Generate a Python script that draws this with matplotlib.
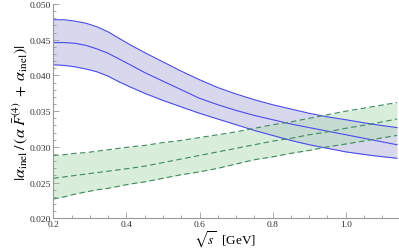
import numpy as np
import matplotlib
matplotlib.use("Agg")
import matplotlib.pyplot as plt
from matplotlib.ticker import MultipleLocator, FormatStrFormatter

plt.rcParams['font.family'] = ['Liberation Serif', 'DejaVu Serif']
plt.rcParams['mathtext.fontset'] = 'stix'

# sqrt(s) in GeV
s = [0.20, 0.23, 0.26, 0.29, 0.32, 0.35, 0.38, 0.41, 0.45, 0.50, 0.55,
     0.60, 0.65, 0.70, 0.75, 0.80, 0.85, 0.90, 0.95, 1.00, 1.07, 1.14]

# blue band (solid lines)
blue_up = [0.0478, 0.0478, 0.0476, 0.0473, 0.0468, 0.0461, 0.0452, 0.0443, 0.0432, 0.0419, 0.0406,
           0.0394, 0.0383, 0.0374, 0.0366, 0.0359, 0.0353, 0.0347, 0.0342, 0.0338, 0.0332, 0.0327]
blue_mid = [0.0446, 0.0446, 0.0445, 0.0442, 0.0437, 0.0431, 0.0423, 0.0415, 0.0404, 0.0392, 0.0380,
            0.0368, 0.0359, 0.0351, 0.0344, 0.0338, 0.0332, 0.0327, 0.0322, 0.0317, 0.0310, 0.0303]
blue_lo = [0.0415, 0.0414, 0.0412, 0.0409, 0.0405, 0.0399, 0.0391, 0.0384, 0.0375, 0.0365, 0.0356,
           0.0347, 0.0339, 0.0331, 0.0323, 0.0316, 0.0309, 0.0303, 0.0298, 0.0293, 0.0288, 0.0284]

# green band (dashed lines)
green_up = [0.0288, 0.0289, 0.0291, 0.0292, 0.0294, 0.0296, 0.0298, 0.0300, 0.0302, 0.0306, 0.0309,
            0.0313, 0.0317, 0.0321, 0.0326, 0.0331, 0.0335, 0.0340, 0.0345, 0.0350, 0.0356, 0.0362]
green_mid = [0.0256, 0.0258, 0.0260, 0.0262, 0.0264, 0.0266, 0.0268, 0.0270, 0.0273, 0.0278, 0.0283,
             0.0288, 0.0293, 0.0298, 0.0303, 0.0308, 0.0312, 0.0317, 0.0321, 0.0326, 0.0332, 0.0339]
green_lo = [0.0227, 0.0230, 0.0234, 0.0237, 0.0240, 0.0242, 0.0245, 0.0248, 0.0251, 0.0256, 0.0261,
            0.0265, 0.0270, 0.0276, 0.0282, 0.0286, 0.0291, 0.0295, 0.0300, 0.0304, 0.0310, 0.0316]

fig = plt.figure(figsize=(3.99, 2.51), dpi=100)
ax = fig.add_axes([0.1336, 0.1263, 0.8631, 0.8537])

blue = '#4a4af2'
green = '#3d8a5e'

ax.fill_between(s, blue_lo, blue_up, color='#b9b9dd', alpha=0.55, lw=0)
ax.fill_between(s, green_lo, green_up, color='#b4dcb8', alpha=0.5, lw=0)

for y in (blue_up, blue_mid, blue_lo):
    ax.plot(s, y, color=blue, lw=0.8)
for y in (green_up, green_mid, green_lo):
    ax.plot(s, y, color=green, lw=0.8, dashes=(5, 3))

ax.set_xlim(0.2, 1.142)
ax.set_ylim(0.02, 0.05)

ax.xaxis.set_major_locator(MultipleLocator(0.2))
ax.xaxis.set_minor_locator(MultipleLocator(0.05))
ax.yaxis.set_major_locator(MultipleLocator(0.005))
ax.yaxis.set_minor_locator(MultipleLocator(0.001))
ax.xaxis.set_major_formatter(FormatStrFormatter('%.1f'))
ax.yaxis.set_major_formatter(FormatStrFormatter('%.3f'))

for sp in ('top', 'right'):
    ax.spines[sp].set_visible(False)
for sp in ('left', 'bottom'):
    ax.spines[sp].set_color('#999999')
    ax.spines[sp].set_linewidth(0.8)

ax.tick_params(which='both', direction='in', color='#999999', labelsize=6.8,
               labelcolor='#333333', width=0.6, pad=1.5)
ax.tick_params(which='major', length=4)
ax.tick_params(which='minor', length=2)

ax.set_xlabel(r'$\sqrt{s}$  [GeV]', fontsize=9.5, labelpad=0)
ax.set_ylabel(r'$|\alpha_{\rm inel}\,/\,(\alpha\;\bar{F}^{(4)}\;+\;\alpha_{\rm inel})|$',
              fontsize=11.5, labelpad=0)

plt.savefig('out.png', dpi=100)
